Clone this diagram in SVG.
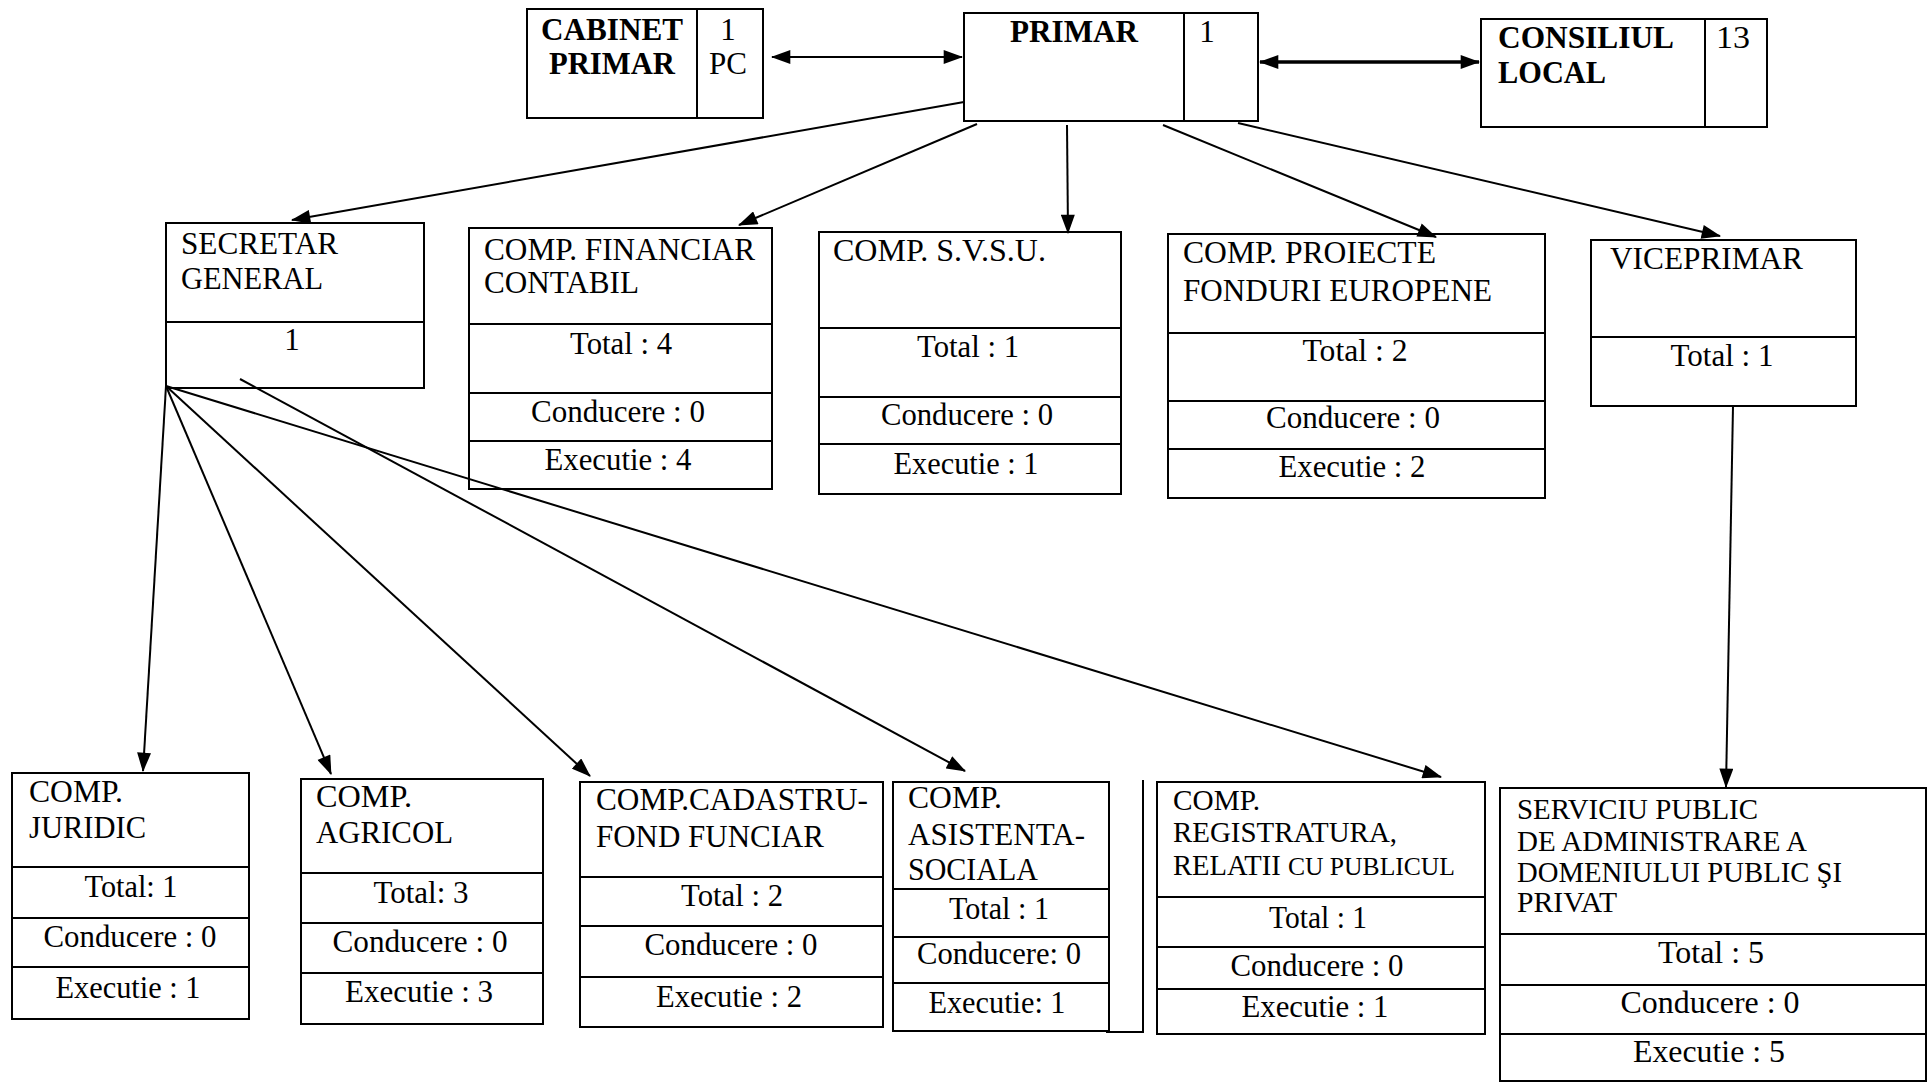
<svg xmlns="http://www.w3.org/2000/svg" width="1928" height="1083" viewBox="0 0 1928 1083">
<style>
.bg{fill:#fff}
.box{fill:#fff;stroke:#000;stroke-width:2}
.div{stroke:#000;stroke-width:2;fill:none}
.t{font-family:"Liberation Serif","Times New Roman",serif;font-size:31px;fill:#000}
.s{font-size:29px}
.b{font-weight:bold}
.c{text-anchor:middle}
.conn{stroke:#000;stroke-width:2;fill:none}
.thick{stroke-width:3.5}
</style>
<defs>
<marker id="ah" markerUnits="userSpaceOnUse" markerWidth="20" markerHeight="14" viewBox="0 0 18 13" refX="17" refY="6.5" orient="auto-start-reverse">
<path d="M0,0 L18,6.5 L0,13 z" fill="#000"/>
</marker>
</defs>
<rect class="bg" x="0" y="0" width="1928" height="1083"/>

<g id="cabinet-primar">
<rect class="box" x="527" y="9" width="236" height="109"/>
<line class="div" x1="697" y1="9" x2="697" y2="118"/>
<text class="t b" x="541" y="40" textLength="142" lengthAdjust="spacingAndGlyphs">CABINET</text>
<text class="t b" x="549" y="74" textLength="126" lengthAdjust="spacingAndGlyphs">PRIMAR</text>
<text class="t c" x="728" y="40">1</text>
<text class="t" x="709" y="74" textLength="38" lengthAdjust="spacingAndGlyphs">PC</text>
</g>

<g id="primar">
<rect class="box" x="964" y="13" width="294" height="108"/>
<line class="div" x1="1184" y1="13" x2="1184" y2="121"/>
<text class="t b c" x="1074" y="42" textLength="128" lengthAdjust="spacingAndGlyphs">PRIMAR</text>
<text class="t c" x="1207" y="42">1</text>
</g>

<g id="consiliul-local">
<rect class="box" x="1481" y="19" width="286" height="108"/>
<line class="div" x1="1705" y1="19" x2="1705" y2="127"/>
<text class="t b" x="1498" y="48" textLength="176" lengthAdjust="spacingAndGlyphs">CONSILIUL</text>
<text class="t b" x="1498" y="83" textLength="108" lengthAdjust="spacingAndGlyphs">LOCAL</text>
<text class="t c" x="1733" y="48" textLength="34" lengthAdjust="spacingAndGlyphs">13</text>
</g>

<g id="secretar-general">
<rect class="box" x="166" y="223" width="258" height="165"/>
<line class="div" x1="166" y1="322" x2="424" y2="322"/>
<text class="t" x="181" y="254" textLength="157" lengthAdjust="spacingAndGlyphs">SECRETAR</text>
<text class="t" x="181" y="289" textLength="142" lengthAdjust="spacingAndGlyphs">GENERAL</text>
<text class="t c" x="292" y="350">1</text>
</g>

<g id="comp-financiar">
<rect class="box" x="469" y="228" width="303" height="261"/>
<line class="div" x1="469" y1="324" x2="772" y2="324"/>
<line class="div" x1="469" y1="393" x2="772" y2="393"/>
<line class="div" x1="469" y1="441" x2="772" y2="441"/>
<text class="t" x="484" y="260" textLength="271" lengthAdjust="spacingAndGlyphs">COMP. FINANCIAR</text>
<text class="t" x="484" y="293" textLength="155" lengthAdjust="spacingAndGlyphs">CONTABIL</text>
<text class="t c" x="621" y="354" textLength="102" lengthAdjust="spacingAndGlyphs">Total : 4</text>
<text class="t c" x="618" y="422" textLength="174" lengthAdjust="spacingAndGlyphs">Conducere : 0</text>
<text class="t c" x="618" y="470" textLength="147" lengthAdjust="spacingAndGlyphs">Executie : 4</text>
</g>

<g id="comp-svsu">
<rect class="box" x="819" y="232" width="302" height="262"/>
<line class="div" x1="819" y1="328" x2="1121" y2="328"/>
<line class="div" x1="819" y1="397" x2="1121" y2="397"/>
<line class="div" x1="819" y1="444" x2="1121" y2="444"/>
<text class="t" x="833" y="261" textLength="213" lengthAdjust="spacingAndGlyphs">COMP. S.V.S.U.</text>
<text class="t c" x="968" y="357" textLength="102" lengthAdjust="spacingAndGlyphs">Total : 1</text>
<text class="t c" x="967" y="425" textLength="172" lengthAdjust="spacingAndGlyphs">Conducere : 0</text>
<text class="t c" x="966" y="474" textLength="145" lengthAdjust="spacingAndGlyphs">Executie : 1</text>
</g>

<g id="comp-proiecte">
<rect class="box" x="1168" y="234" width="377" height="264"/>
<line class="div" x1="1168" y1="333" x2="1545" y2="333"/>
<line class="div" x1="1168" y1="401" x2="1545" y2="401"/>
<line class="div" x1="1168" y1="449" x2="1545" y2="449"/>
<text class="t" x="1183" y="263" textLength="253" lengthAdjust="spacingAndGlyphs">COMP. PROIECTE</text>
<text class="t" x="1183" y="301" textLength="309" lengthAdjust="spacingAndGlyphs">FONDURI EUROPENE</text>
<text class="t c" x="1355" y="361" textLength="105" lengthAdjust="spacingAndGlyphs">Total : 2</text>
<text class="t c" x="1353" y="428" textLength="174" lengthAdjust="spacingAndGlyphs">Conducere : 0</text>
<text class="t c" x="1352" y="477" textLength="147" lengthAdjust="spacingAndGlyphs">Executie : 2</text>
</g>

<g id="viceprimar">
<rect class="box" x="1591" y="240" width="265" height="166"/>
<line class="div" x1="1591" y1="337" x2="1856" y2="337"/>
<text class="t" x="1610" y="269" textLength="193" lengthAdjust="spacingAndGlyphs">VICEPRIMAR</text>
<text class="t c" x="1722" y="366" textLength="103" lengthAdjust="spacingAndGlyphs">Total : 1</text>
</g>

<g id="comp-juridic">
<rect class="box" x="12" y="773" width="237" height="246"/>
<line class="div" x1="12" y1="867" x2="249" y2="867"/>
<line class="div" x1="12" y1="918" x2="249" y2="918"/>
<line class="div" x1="12" y1="967" x2="249" y2="967"/>
<text class="t" x="29" y="802" textLength="94" lengthAdjust="spacingAndGlyphs">COMP.</text>
<text class="t" x="29" y="838" textLength="117" lengthAdjust="spacingAndGlyphs">JURIDIC</text>
<text class="t c" x="131" y="897" textLength="93" lengthAdjust="spacingAndGlyphs">Total: 1</text>
<text class="t c" x="130" y="947" textLength="173" lengthAdjust="spacingAndGlyphs">Conducere : 0</text>
<text class="t c" x="128" y="998" textLength="145" lengthAdjust="spacingAndGlyphs">Executie : 1</text>
</g>

<g id="comp-agricol">
<rect class="box" x="301" y="779" width="242" height="245"/>
<line class="div" x1="301" y1="873" x2="543" y2="873"/>
<line class="div" x1="301" y1="923" x2="543" y2="923"/>
<line class="div" x1="301" y1="973" x2="543" y2="973"/>
<text class="t" x="316" y="807" textLength="96" lengthAdjust="spacingAndGlyphs">COMP.</text>
<text class="t" x="316" y="843" textLength="137" lengthAdjust="spacingAndGlyphs">AGRICOL</text>
<text class="t c" x="421" y="903" textLength="95" lengthAdjust="spacingAndGlyphs">Total: 3</text>
<text class="t c" x="420" y="952" textLength="175" lengthAdjust="spacingAndGlyphs">Conducere : 0</text>
<text class="t c" x="419" y="1002" textLength="148" lengthAdjust="spacingAndGlyphs">Executie : 3</text>
</g>

<g id="comp-cadastru">
<rect class="box" x="580" y="782" width="303" height="245"/>
<line class="div" x1="580" y1="877" x2="883" y2="877"/>
<line class="div" x1="580" y1="926" x2="883" y2="926"/>
<line class="div" x1="580" y1="977" x2="883" y2="977"/>
<text class="t" x="596" y="810" textLength="272" lengthAdjust="spacingAndGlyphs">COMP.CADASTRU-</text>
<text class="t" x="596" y="847" textLength="228" lengthAdjust="spacingAndGlyphs">FOND FUNCIAR</text>
<text class="t c" x="732" y="906" textLength="102" lengthAdjust="spacingAndGlyphs">Total : 2</text>
<text class="t c" x="731" y="955" textLength="173" lengthAdjust="spacingAndGlyphs">Conducere : 0</text>
<text class="t c" x="729" y="1007" textLength="146" lengthAdjust="spacingAndGlyphs">Executie : 2</text>
</g>

<g id="comp-asistenta">
<rect class="box" x="893" y="782" width="216" height="249"/>
<line class="div" x1="893" y1="889" x2="1109" y2="889"/>
<line class="div" x1="893" y1="937" x2="1109" y2="937"/>
<line class="div" x1="893" y1="983" x2="1109" y2="983"/>
<text class="t" x="908" y="808" textLength="94" lengthAdjust="spacingAndGlyphs">COMP.</text>
<text class="t" x="908" y="845" textLength="177" lengthAdjust="spacingAndGlyphs">ASISTENTA-</text>
<text class="t" x="908" y="880" textLength="130" lengthAdjust="spacingAndGlyphs">SOCIALA</text>
<text class="t c" x="999" y="919" textLength="100" lengthAdjust="spacingAndGlyphs">Total : 1</text>
<text class="t c" x="999" y="964" textLength="164" lengthAdjust="spacingAndGlyphs">Conducere: 0</text>
<text class="t c" x="997" y="1013" textLength="137" lengthAdjust="spacingAndGlyphs">Executie: 1</text>
</g>

<g id="comp-registratura">
<rect class="box" x="1157" y="782" width="328" height="252"/>
<line class="div" x1="1157" y1="897" x2="1485" y2="897"/>
<line class="div" x1="1157" y1="947" x2="1485" y2="947"/>
<line class="div" x1="1157" y1="989" x2="1485" y2="989"/>
<text class="t s" x="1173" y="810" textLength="87" lengthAdjust="spacingAndGlyphs">COMP.</text>
<text class="t s" x="1173" y="842" textLength="224" lengthAdjust="spacingAndGlyphs">REGISTRATURA,</text>
<text class="t s" x="1173" y="875" textLength="282" lengthAdjust="spacingAndGlyphs">RELATII <tspan font-size="26">CU PUBLICUL</tspan></text>
<text class="t c" x="1318" y="928" textLength="98" lengthAdjust="spacingAndGlyphs">Total : 1</text>
<text class="t c" x="1317" y="976" textLength="173" lengthAdjust="spacingAndGlyphs">Conducere : 0</text>
<text class="t c" x="1315" y="1017" textLength="147" lengthAdjust="spacingAndGlyphs">Executie : 1</text>
</g>

<g id="serviciu-public">
<rect class="box" x="1500" y="788" width="426" height="293"/>
<line class="div" x1="1500" y1="934" x2="1926" y2="934"/>
<line class="div" x1="1500" y1="985" x2="1926" y2="985"/>
<line class="div" x1="1500" y1="1034" x2="1926" y2="1034"/>
<text class="t s" x="1517" y="819" textLength="241" lengthAdjust="spacingAndGlyphs">SERVICIU PUBLIC</text>
<text class="t s" x="1517" y="851" textLength="290" lengthAdjust="spacingAndGlyphs">DE ADMINISTRARE A</text>
<text class="t s" x="1517" y="882" textLength="325" lengthAdjust="spacingAndGlyphs">DOMENIULUI PUBLIC ŞI</text>
<text class="t s" x="1517" y="912" textLength="100" lengthAdjust="spacingAndGlyphs">PRIVAT</text>
<text class="t c" x="1711" y="963" textLength="106" lengthAdjust="spacingAndGlyphs">Total : 5</text>
<text class="t c" x="1710" y="1013" textLength="179" lengthAdjust="spacingAndGlyphs">Conducere : 0</text>
<text class="t c" x="1709" y="1062" textLength="152" lengthAdjust="spacingAndGlyphs">Executie : 5</text>
</g>

<g id="connectors">
<line class="conn" x1="772" y1="57" x2="962" y2="57" marker-start="url(#ah)" marker-end="url(#ah)"/>
<line class="conn thick" x1="1260" y1="62" x2="1479" y2="62" marker-start="url(#ah)" marker-end="url(#ah)"/>
<line class="conn" x1="964" y1="102" x2="292" y2="220" marker-end="url(#ah)"/>
<line class="conn" x1="977" y1="124" x2="739" y2="225" marker-end="url(#ah)"/>
<line class="conn" x1="1067" y1="125" x2="1068" y2="233" marker-end="url(#ah)"/>
<line class="conn" x1="1163" y1="125" x2="1436" y2="237" marker-end="url(#ah)"/>
<line class="conn" x1="1238" y1="123" x2="1720" y2="236" marker-end="url(#ah)"/>
<line class="conn" x1="1733" y1="406" x2="1726" y2="787" marker-end="url(#ah)"/>
<line class="conn" x1="166" y1="386" x2="143" y2="771" marker-end="url(#ah)"/>
<line class="conn" x1="166" y1="386" x2="331" y2="774" marker-end="url(#ah)"/>
<line class="conn" x1="166" y1="386" x2="590" y2="776" marker-end="url(#ah)"/>
<line class="conn" x1="240" y1="379" x2="965" y2="771" marker-end="url(#ah)"/>
<line class="conn" x1="166" y1="386" x2="1441" y2="777" marker-end="url(#ah)"/>
<path class="conn" d="M1106,1032 H1143 V780"/>
</g>
</svg>
